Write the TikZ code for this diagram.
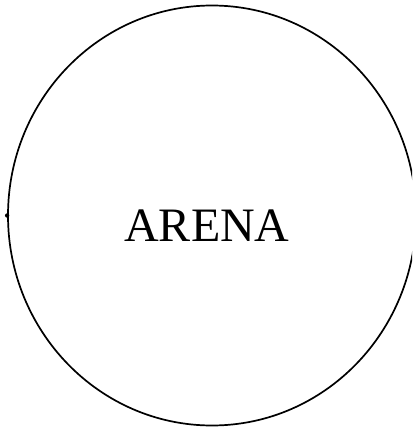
\documentclass[tikz,border=0pt]{standalone}
\usepackage{fontspec}
\setmainfont{Liberation Serif}
\usetikzlibrary{shapes.geometric}
\tikzset{
  arenashape/.style={draw=black, line width=1.7pt, ellipse, inner sep=0pt, minimum width=408pt, minimum height=420pt},
  arenalabel/.style={font=\fontsize{48}{48}\selectfont, inner sep=0pt, text=black},
  dotmark/.style={fill=black}
}
\begin{document}
\begin{tikzpicture}[x=1pt,y=-1pt]
\useasboundingbox (0,0) rectangle (412,428);
\clip (0,0) rectangle (412,428);
\node[arenashape] (arena) at (212,215.5) {};
\node[arenalabel] (label) at (207,226) {ARENA};
\fill[dotmark] (arena.west) circle (2.2pt);
\end{tikzpicture}
\end{document}
